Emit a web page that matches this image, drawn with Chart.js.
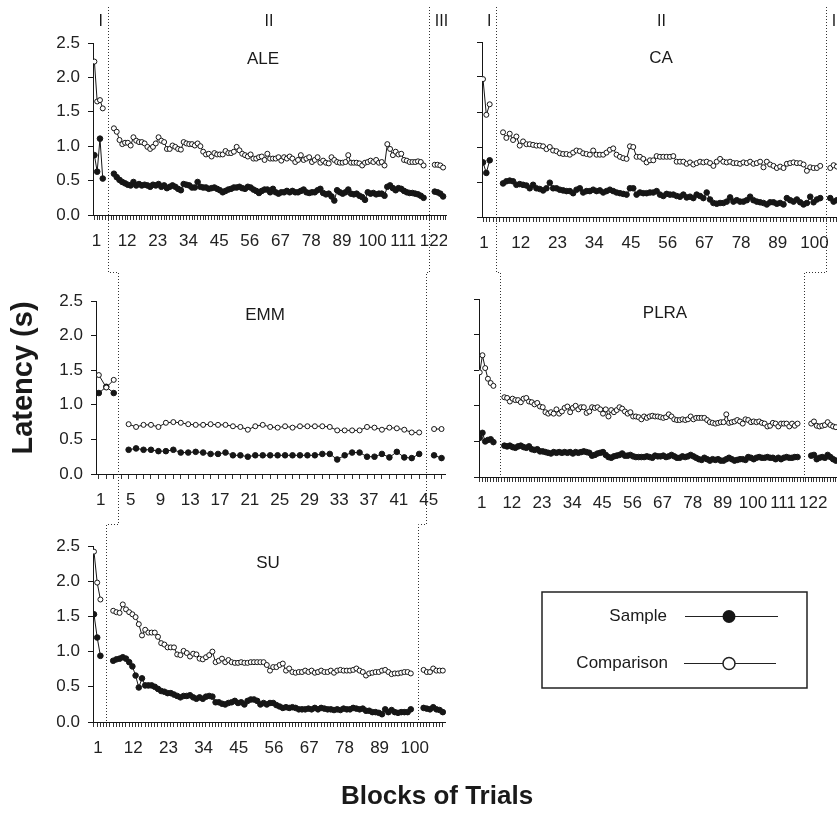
<!DOCTYPE html>
<html>
<head>
<meta charset="utf-8">
<script src="https://cdn.jsdelivr.net/npm/chart.js@4.4.1/dist/chart.umd.min.js"></script>
<style>
  html, body { margin: 0; padding: 0; background: #fff; overflow: hidden; }
  #page { position: relative; width: 837px; height: 813px; overflow: hidden; }
  #page canvas { position: absolute; }
</style>
</head>
<body>
<div id="page"></div>
<script>
// ---------- data (latency in s, per block of trials) ----------
const aleTicks = [1, 12, 23, 34, 45, 56, 67, 78, 89, 100, 111, 122];
const aleCompI = [2.23, 1.65, 1.67, 1.55];
const aleSampI = [0.87, 0.63, 1.11, 0.53];
const aleCompII = [1.26,1.21,1.09,1.03,1.05,1.05,1.01,1.13,1.08,1.06, 1.06,1.04,0.99,0.96,0.99,1.04,1.13,1.08,1.06,0.96,
  0.96,1.01,0.99,0.96,0.95,1.06,1.04,1.03,1.03,1.01, 1.04,1.00,0.92,0.88,0.89,0.85,0.90,0.88,0.88,0.88,
  0.93,0.90,0.90,0.92,0.99,0.94,0.89,0.87,0.85,0.88, 0.82,0.82,0.84,0.85,0.80,0.89,0.82,0.82,0.82,0.84,
  0.79,0.84,0.82,0.85,0.82,0.77,0.80,0.87,0.80,0.82, 0.84,0.77,0.80,0.84,0.76,0.79,0.76,0.75,0.84,0.80,
  0.77,0.76,0.76,0.77,0.87,0.76,0.76,0.76,0.75,0.72, 0.76,0.77,0.79,0.77,0.80,0.76,0.77,0.72,1.03,0.96,
  0.87,0.92,0.88,0.89,0.80,0.79,0.77,0.77,0.77,0.78, 0.77,0.72];
const aleSampII = [0.60,0.55,0.51,0.48,0.46,0.44,0.43,0.48,0.43,0.45, 0.43,0.44,0.43,0.41,0.44,0.43,0.45,0.41,0.43,0.39,
  0.41,0.43,0.41,0.38,0.36,0.45,0.44,0.43,0.40,0.40, 0.48,0.41,0.40,0.40,0.38,0.39,0.40,0.38,0.36,0.33,
  0.35,0.37,0.38,0.40,0.40,0.41,0.39,0.38,0.41,0.40, 0.37,0.35,0.32,0.35,0.37,0.37,0.33,0.38,0.33,0.31,
  0.33,0.33,0.35,0.33,0.35,0.33,0.33,0.35,0.37,0.33, 0.32,0.33,0.33,0.36,0.38,0.32,0.30,0.31,0.27,0.21,
  0.36,0.33,0.31,0.33,0.37,0.31,0.30,0.31,0.28,0.26, 0.22,0.33,0.31,0.32,0.30,0.31,0.31,0.28,0.41,0.43,
  0.39,0.36,0.39,0.38,0.35,0.33,0.32,0.32,0.31,0.30, 0.28,0.25];
const aleCompIII = [0.73, 0.73, 0.72, 0.69];
const aleSampIII = [0.34, 0.33, 0.31, 0.27];

const caTicks = [1, 12, 23, 34, 45, 56, 67, 78, 89, 100, 111];
const caCompI = [1.97, 1.46, 1.61];
const caSampI = [0.78, 0.63, 0.81];
const caCompII = [1.21,1.13,1.19,1.10,1.15,1.02,1.08,1.04,1.04,1.03, 1.02,1.02,1.01,0.97,1.00,0.95,0.94,0.91,0.90,0.90,
  0.89,0.92,0.95,0.94,0.91,0.90,0.89,0.95,0.89,0.89, 0.89,0.92,0.96,0.98,0.89,0.86,0.84,0.83,1.01,1.00,
  0.86,0.86,0.83,0.78,0.81,0.81,0.87,0.86,0.86,0.86, 0.86,0.87,0.79,0.79,0.79,0.76,0.78,0.75,0.77,0.79,
  0.78,0.79,0.77,0.73,0.79,0.83,0.79,0.78,0.79,0.77, 0.77,0.76,0.78,0.77,0.79,0.76,0.77,0.79,0.71,0.79,
  0.75,0.73,0.70,0.72,0.70,0.76,0.77,0.78,0.77,0.77, 0.75,0.66,0.71,0.70,0.70,0.73];
const caSampII = [0.48,0.51,0.52,0.51,0.46,0.47,0.46,0.45,0.41,0.46, 0.41,0.40,0.38,0.41,0.49,0.41,0.41,0.39,0.38,0.37,
  0.37,0.34,0.39,0.41,0.35,0.37,0.37,0.39,0.37,0.38, 0.35,0.37,0.39,0.37,0.35,0.34,0.33,0.32,0.41,0.41,
  0.32,0.35,0.34,0.34,0.35,0.35,0.37,0.32,0.30,0.33, 0.32,0.32,0.30,0.29,0.32,0.28,0.29,0.27,0.32,0.30,
  0.27,0.35,0.25,0.20,0.19,0.20,0.20,0.22,0.28,0.22, 0.24,0.22,0.22,0.24,0.29,0.24,0.22,0.21,0.20,0.18,
  0.21,0.21,0.19,0.20,0.18,0.27,0.24,0.22,0.25,0.21, 0.18,0.20,0.29,0.21,0.25,0.27];
const caCompIII = [0.70, 0.74, 0.72, 0.70];
const caSampIII = [0.27, 0.22, 0.24, 0.25];

const emmTicks = [1, 5, 9, 13, 17, 21, 25, 29, 33, 37, 41, 45];
const emmCompI = [1.43, 1.25, 1.36];
const emmSampI = [1.17, 1.26, 1.17];
const emmCompII = [0.72,0.68,0.71,0.71,0.68,0.74,0.75,0.74,0.72,0.71, 0.71,0.72,0.71,0.71,0.69,0.68,0.64,0.69,0.71,0.68,
  0.67,0.69,0.67,0.69,0.69,0.69,0.69,0.68,0.63,0.63, 0.63,0.63,0.68,0.67,0.64,0.67,0.66,0.64,0.60,0.60];
const emmSampII = [0.35,0.37,0.35,0.35,0.33,0.33,0.35,0.31,0.31,0.32, 0.31,0.29,0.29,0.31,0.27,0.27,0.25,0.27,0.27,0.27,
  0.27,0.27,0.27,0.27,0.27,0.27,0.29,0.29,0.21,0.27, 0.31,0.31,0.25,0.25,0.29,0.24,0.32,0.24,0.23,0.29];
const emmCompIII = [0.65, 0.65];
const emmSampIII = [0.27, 0.23];

const plraTicks = [1, 12, 23, 34, 45, 56, 67, 78, 89, 100, 111, 122];
const plraCompI = [1.47, 1.71, 1.53, 1.38, 1.32, 1.28];
const plraSampI = [0.55, 0.62, 0.50, 0.52, 0.53, 0.49];
const plraCompII = [1.12,1.11,1.06,1.10,1.08,1.08,1.05,1.10,1.11,1.06, 1.05,1.02,1.04,0.99,0.98,0.91,0.89,0.91,0.89,0.95,
  0.89,0.92,0.97,0.99,0.91,0.97,1.00,0.95,0.98,0.98, 0.90,0.92,0.98,0.97,0.98,0.95,0.89,0.95,0.85,0.94,
  0.91,0.94,0.98,0.96,0.92,0.89,0.91,0.85,0.85,0.84, 0.81,0.85,0.83,0.85,0.86,0.85,0.85,0.84,0.83,0.84,
  0.88,0.85,0.81,0.80,0.80,0.81,0.80,0.81,0.85,0.81, 0.83,0.83,0.83,0.83,0.80,0.77,0.76,0.75,0.76,0.77,
  0.77,0.88,0.76,0.77,0.78,0.80,0.78,0.75,0.81,0.80, 0.77,0.78,0.77,0.78,0.76,0.75,0.71,0.72,0.76,0.75,
  0.71,0.75,0.75,0.75,0.71,0.75,0.72,0.75];
const plraSampII = [0.44,0.43,0.44,0.42,0.41,0.43,0.44,0.42,0.41,0.43, 0.39,0.38,0.39,0.36,0.36,0.35,0.34,0.33,0.35,0.34,
  0.35,0.34,0.35,0.34,0.35,0.33,0.35,0.34,0.35,0.36, 0.35,0.34,0.30,0.31,0.33,0.34,0.35,0.31,0.28,0.27,
  0.29,0.30,0.31,0.33,0.30,0.30,0.31,0.29,0.28,0.28, 0.28,0.28,0.29,0.28,0.27,0.30,0.29,0.29,0.30,0.28,
  0.29,0.31,0.29,0.27,0.27,0.29,0.28,0.29,0.31,0.29, 0.27,0.25,0.24,0.27,0.25,0.23,0.25,0.24,0.25,0.23,
  0.23,0.25,0.27,0.25,0.23,0.24,0.25,0.25,0.24,0.28, 0.27,0.25,0.27,0.28,0.27,0.27,0.28,0.27,0.27,0.25,
  0.27,0.25,0.27,0.28,0.27,0.27,0.28,0.28];
const plraCompIII = [0.75,0.78,0.72,0.71,0.72,0.73,0.77,0.73,0.71,0.70];
const plraSampIII = [0.30,0.31,0.25,0.27,0.28,0.27,0.31,0.28,0.25,0.23];

const suTicks = [1, 12, 23, 34, 45, 56, 67, 78, 89, 100];
const suCompI = [2.42, 1.98, 1.74];
const suSampI = [1.53, 1.20, 0.94];
const suCompII = [1.58,1.56,1.55,1.67,1.60,1.56,1.53,1.49,1.39,1.23, 1.31,1.27,1.27,1.27,1.21,1.12,1.10,1.06,1.06,1.06,
  0.96,0.95,1.01,0.98,0.93,0.97,0.96,0.90,0.89,0.92, 0.95,1.00,0.85,0.87,0.90,0.85,0.88,0.85,0.84,0.84,
  0.85,0.84,0.84,0.85,0.85,0.85,0.85,0.85,0.81,0.73, 0.78,0.78,0.81,0.83,0.73,0.76,0.71,0.70,0.71,0.71,
  0.73,0.71,0.73,0.70,0.71,0.73,0.71,0.71,0.73,0.70, 0.73,0.74,0.73,0.73,0.73,0.74,0.76,0.73,0.71,0.66,
  0.69,0.70,0.71,0.71,0.73,0.74,0.71,0.68,0.69,0.69, 0.70,0.71,0.71,0.69];
const suSampII = [0.87,0.89,0.90,0.92,0.90,0.85,0.79,0.66,0.49,0.62, 0.52,0.52,0.52,0.50,0.47,0.44,0.43,0.41,0.41,0.39,
  0.37,0.35,0.37,0.37,0.38,0.35,0.33,0.35,0.33,0.36, 0.37,0.36,0.28,0.28,0.26,0.25,0.27,0.28,0.30,0.27,
  0.28,0.25,0.30,0.32,0.32,0.30,0.25,0.27,0.25,0.27, 0.27,0.24,0.22,0.20,0.21,0.20,0.21,0.20,0.18,0.18,
  0.18,0.19,0.18,0.20,0.18,0.20,0.19,0.18,0.18,0.17, 0.18,0.17,0.19,0.18,0.18,0.20,0.19,0.18,0.19,0.16,
  0.16,0.14,0.14,0.13,0.11,0.18,0.14,0.17,0.14,0.13, 0.14,0.14,0.14,0.18];
const suCompIII = [0.74,0.71,0.71,0.76,0.73,0.73,0.73];
const suSampIII = [0.20,0.19,0.18,0.21,0.18,0.17,0.14];

// ---------- panel layout ----------
const INK = '#161616';
const Y_W = 60, X_H = 44, PAD_T = 12;
Chart.defaults.font.family = '"Liberation Sans", Arial, Helvetica, sans-serif';
Chart.defaults.font.size = 17;
Chart.defaults.color = '#222';

const panels = {
  ALE: { left: 93, right: 447, top: 43, bottom: 215, xMin: 0.5, xMax: 127.4, ticks: aleTicks, yLabels: true, labelOffset: 2,
    title: [263, 59], dividers: [5.9, 120.9],
    phases: [[1, aleCompI, aleSampI], [8, aleCompII, aleSampII], [123, aleCompIII, aleSampIII]] },
  CA: { left: 482, right: 880, top: 42, bottom: 217, xMin: 0.7, xMax: 119.9, ticks: caTicks, yLabels: false, labelOffset: 1,
    title: [661, 58], dividers: [4.8, 103.6],
    phases: [[1, caCompI, caSampI], [7, caCompII, caSampII], [105, caCompIII, caSampIII]] },
  EMM: { left: 96, right: 446, top: 301, bottom: 474, xMin: 0.62, xMax: 47.6, ticks: emmTicks, yLabels: true, labelOffset: 2,
    title: [265, 315], dividers: [3.52, 44.9],
    phases: [[1, emmCompI, emmSampI], [5, emmCompII, emmSampII], [46, emmCompIII, emmSampIII]] },
  PLRA: { left: 479, right: 880, top: 299, bottom: 477, xMin: 0.74, xMax: 147.1, ticks: plraTicks, yLabels: false, labelOffset: 2,
    title: [665, 313], dividers: [8.3, 119.4],
    phases: [[1, plraCompI, plraSampI], [10, plraCompII, plraSampII], [122, plraCompIII, plraSampIII]] },
  SU: { left: 93, right: 446, top: 546, bottom: 722, xMin: 0.69, xMax: 111, ticks: suTicks, yLabels: true, labelOffset: 4,
    title: [268, 563], dividers: [4.66, 102.1],
    phases: [[1, suCompI, suSampI], [7, suCompII, suSampII], [104, suCompIII, suSampIII]] }
};

const page = document.getElementById('page');

function series(vals, start, filled) {
  const fill = filled ? INK : '#fff';
  return {
    data: vals.map((v, i) => ({ x: start + i, y: v })),
    borderColor: INK, borderWidth: 1, backgroundColor: fill, fill: false, tension: 0,
    pointBackgroundColor: fill, pointBorderColor: INK, pointBorderWidth: 1,
    pointRadius: filled ? 2.8 : 2.5
  };
}

function makePanel(p) {
  const c = document.createElement('canvas');
  const w = p.right - p.left + Y_W, h = p.bottom - p.top + PAD_T + X_H;
  c.width = w; c.height = h;
  c.style.width = w + 'px'; c.style.height = h + 'px';
  p.canvasLeft = p.left - Y_W;
  p.canvasTop = p.top - PAD_T;
  c.style.left = p.canvasLeft + 'px'; c.style.top = p.canvasTop + 'px';
  page.appendChild(c);

  const datasets = [];
  p.phases.forEach(([start, comp, samp]) => {
    datasets.push(series(comp, start, false));
    datasets.push(series(samp, start, true));
  });

  p.chart = new Chart(c, {
    type: 'line',
    data: { datasets },
    options: {
      responsive: false, animation: false, events: [],
      layout: { autoPadding: false, padding: { top: PAD_T, left: 0, right: 0, bottom: 0 } },
      plugins: { legend: { display: false }, tooltip: { enabled: false } },
      scales: {
        x: {
          type: 'linear', min: p.xMin, max: p.xMax,
          afterBuildTicks: (s) => {
            const t = [];
            for (let v = Math.ceil(p.xMin); v <= p.xMax; v++) t.push({ value: v });
            s.ticks = t;
          },
          // fixed axis box: no extra edge padding for labels
          afterFit: (s) => { s.height = X_H; s.paddingLeft = 0; s.paddingRight = 0; },
          grid: { drawOnChartArea: false, color: '#333', tickLength: 5, lineWidth: 1 },
          border: { color: INK, width: 1 },
          ticks: {
            autoSkip: false, maxRotation: 0, minRotation: 0, padding: 11, labelOffset: p.labelOffset,
            callback: (v) => (p.ticks.includes(v) ? String(v) : '')
          }
        },
        y: {
          min: 0, max: 2.5,
          afterFit: (s) => { s.width = Y_W; s.paddingTop = 0; s.paddingBottom = 0; },
          grid: { drawOnChartArea: false, color: INK, tickLength: 5, lineWidth: 1 },
          border: { color: INK, width: 1 },
          ticks: { stepSize: 0.5, padding: 8, callback: (v) => (p.yLabels ? v.toFixed(1) : '') }
        }
      }
    }
  });
}

Object.values(panels).forEach(makePanel);

// ---------- overlay: phase dividers, labels, titles, legend ----------
const ov = document.createElement('canvas');
ov.width = 837; ov.height = 813;
ov.style.left = '0px'; ov.style.top = '0px'; ov.style.zIndex = 5;
page.appendChild(ov);
const g = ov.getContext('2d');

function divPx(p, k) {
  return Math.round(p.canvasLeft + p.chart.scales.x.getPixelForValue(p.dividers[k])) + 0.5;
}
function dotted(pts) {
  g.beginPath();
  pts.forEach(([x, y], i) => (i ? g.lineTo(x, y) : g.moveTo(x, y)));
  g.stroke();
}

g.strokeStyle = '#333';
g.lineWidth = 1;
g.setLineDash([1, 2]);
[0, 1].forEach((k) => {
  const a = divPx(panels.ALE, k), e = divPx(panels.EMM, k), s = divPx(panels.SU, k);
  dotted([[a, 7], [a, 272.5], [e, 272.5], [e, 524.5], [s, 524.5], [s, panels.SU.bottom]]);
  const c = divPx(panels.CA, k), r = divPx(panels.PLRA, k);
  dotted([[c, 7], [c, 272.5], [r, 272.5], [r, 480]]);
});
g.setLineDash([]);

g.fillStyle = '#1a1a1a';
g.textAlign = 'center';
g.textBaseline = 'middle';

// phase labels above the top row
g.font = '16px "Liberation Sans", Arial, sans-serif';
['ALE', 'CA'].forEach((name) => {
  const p = panels[name];
  const d0 = divPx(p, 0), d1 = divPx(p, 1);
  g.fillText('I', (p.left + d0) / 2, 22);
  g.fillText('II', (d0 + d1) / 2, 22);
  g.fillText('III', d1 + 12, 22);
});

// panel titles
g.font = '17px "Liberation Sans", Arial, sans-serif';
Object.entries(panels).forEach(([name, p]) => g.fillText(name, p.title[0], p.title[1]));

// axis titles
g.font = 'bold 26px "Liberation Sans", Arial, sans-serif';
g.fillText('Blocks of Trials', 437, 797);
g.font = 'bold 29px "Liberation Sans", Arial, sans-serif';
g.save();
g.translate(24, 378);
g.rotate(-Math.PI / 2);
g.fillText('Latency (s)', 0, 0);
g.restore();

// legend box
g.strokeStyle = '#222';
g.lineWidth = 1.5;
g.strokeRect(542, 592, 265, 96);
g.font = '17px "Liberation Sans", Arial, sans-serif';
g.textAlign = 'right';
g.fillText('Sample', 667, 616);
g.fillText('Comparison', 668, 663);
g.lineWidth = 1.2;
g.beginPath(); g.moveTo(685, 616.5); g.lineTo(778, 616.5); g.stroke();
g.beginPath(); g.moveTo(684, 663.5); g.lineTo(776, 663.5); g.stroke();
g.beginPath(); g.arc(729, 616.5, 6.5, 0, Math.PI * 2); g.fillStyle = INK; g.fill();
g.beginPath(); g.arc(729, 663.5, 6, 0, Math.PI * 2); g.fillStyle = '#fff'; g.fill();
g.lineWidth = 1.5; g.stroke();
</script>
</body>
</html>
